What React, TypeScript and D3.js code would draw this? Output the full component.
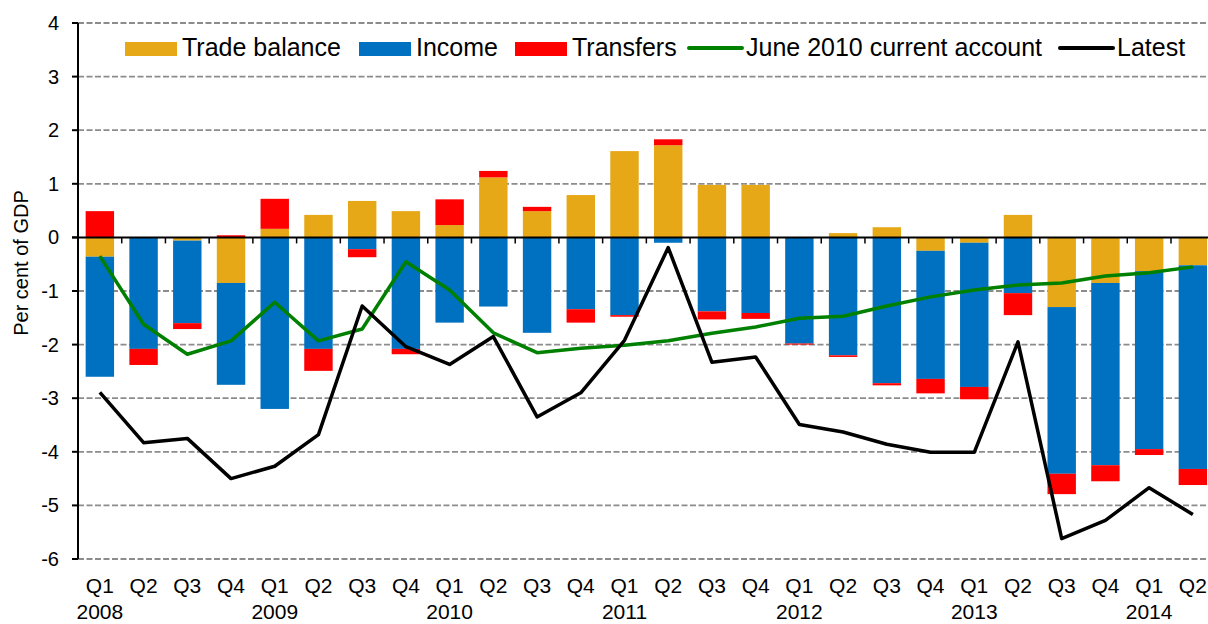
import React from "react";
import * as d3 from "d3";

const quarters = ["Q1","Q2","Q3","Q4","Q1","Q2","Q3","Q4","Q1","Q2","Q3","Q4","Q1","Q2","Q3","Q4","Q1","Q2","Q3","Q4","Q1","Q2","Q3","Q4","Q1","Q2"];
const years = ["2008","","","","2009","","","","2010","","","","2011","","","","2012","","","","2013","","","","2014",""];
const tradeBalance = [-0.36,0,-0.06,-0.85,0.16,0.42,0.68,0.49,0.23,1.12,0.49,0.79,1.61,1.72,0.98,0.98,0,0.08,0.19,-0.25,-0.10,0.42,-1.30,-0.85,-0.63,-0.52];
const income = [-2.24,-2.08,-1.54,-1.90,-3.20,-2.08,-0.22,-2.08,-1.59,-1.29,-1.78,-1.34,-1.45,-0.10,-1.38,-1.41,-1.98,-2.20,-2.72,-2.39,-2.69,-1.04,-3.11,-3.40,-3.32,-3.80];
const transfers = [0.49,-0.30,-0.11,0.04,0.56,-0.41,-0.15,-0.10,0.48,0.12,0.08,-0.25,-0.03,0.11,-0.15,-0.11,-0.02,-0.03,-0.04,-0.27,-0.23,-0.41,-0.38,-0.30,-0.11,-0.30];
const june2010 = [-0.35,-1.62,-2.18,-1.93,-1.21,-1.93,-1.71,-0.455,-0.98,-1.78,-2.15,-2.07,-2.01,-1.93,-1.79,-1.67,-1.51,-1.47,-1.28,-1.11,-0.98,-0.89,-0.85,-0.72,-0.66,-0.55];
const latest = [-2.89,-3.83,-3.75,-4.50,-4.27,-3.68,-1.28,-2.04,-2.37,-1.85,-3.35,-2.90,-1.92,-0.19,-2.33,-2.23,-3.49,-3.63,-3.86,-4.01,-4.01,-1.95,-5.62,-5.28,-4.67,-5.17];
const yTicks = [4,3,2,1,0,-1,-2,-3,-4,-5,-6];

const seriesKeys = ["trade","income","transfers"];
const seriesColors: Record<string,string> = { trade: "#E6A817", income: "#0070C0", transfers: "#FF0000" };
const legendItems = [
  { label: "Trade balance", kind: "rect", color: "#E6A817", x: 125 },
  { label: "Income", kind: "rect", color: "#0070C0", x: 359 },
  { label: "Transfers", kind: "rect", color: "#FF0000", x: 515 },
  { label: "June 2010 current account", kind: "line", color: "#008000", x: 689 },
  { label: "Latest", kind: "line", color: "#000000", x: 1060 },
];

const FONT = "'Liberation Sans', Arial, sans-serif";

export default function App() {
  const W = 1208, H = 624;
  const left = 78, top = 23, bottom = 559;
  const ids = quarters.map((_, i) => String(i));
  const x = d3.scaleBand<string>().domain(ids).range([left, left + 26 * 43.72]).paddingInner(0.35).paddingOuter(0.175);
  const y = d3.scaleLinear().domain([-6, 4]).range([bottom, top]);

  const table = ids.map((id, i) => ({ id, trade: tradeBalance[i], income: income[i], transfers: transfers[i] }));
  const stacked = d3.stack<any>().keys(seriesKeys).offset(d3.stackOffsetDiverging)(table);

  const line = d3.line<number>().x((_, i) => (x(ids[i]) as number) + x.bandwidth() / 2).y(d => y(d));
  const xEnd = W;

  return (
    <svg width={W} height={H} style={{ position: "absolute", left: 0, top: 0, background: "#fff" }} fontFamily={FONT}>
      {yTicks.filter(t => t !== 0).map(t => (
        <line key={"g" + t} x1={left} x2={xEnd} y1={y(t)} y2={y(t)} stroke="#8c8c8c" strokeWidth={1.8} strokeDasharray="6,2.5" />
      ))}
      {stacked.map(s => (
        <g key={s.key} fill={seriesColors[s.key]}>
          {s.map((d, i) => {
            const y0 = y(Math.max(d[0], d[1]));
            const y1 = y(Math.min(d[0], d[1]));
            return <rect key={i} x={x(ids[i])} width={x.bandwidth()} y={y0} height={Math.max(0, y1 - y0)} />;
          })}
        </g>
      ))}
      <line x1={left - 6} x2={xEnd} y1={y(0)} y2={y(0)} stroke="#000" strokeWidth={2} />
      {ids.slice(1).map((id) => (
        <line key={"xt" + id} x1={x(id)! - (x.step() - x.bandwidth()) / 2} x2={x(id)! - (x.step() - x.bandwidth()) / 2} y1={y(0)} y2={y(0) + 6} stroke="#000" strokeWidth={1.5} />
      ))}
      <line x1={left} x2={left} y1={top} y2={bottom} stroke="#000" strokeWidth={2} />
      {yTicks.map(t => (
        <g key={"yt" + t}>
          <line x1={left - 6} x2={left} y1={y(t)} y2={y(t)} stroke="#000" strokeWidth={2} />
          <text x={59} y={y(t)} dy="0.35em" textAnchor="end" fontSize={20} fill="#000">{t}</text>
        </g>
      ))}
      <text transform={`translate(28,263) rotate(-90)`} textAnchor="middle" fontSize={20} fill="#000">Per cent of GDP</text>
      <path d={line(june2010) || ""} fill="none" stroke="#008000" strokeWidth={3.5} strokeLinejoin="round" />
      <path d={line(latest) || ""} fill="none" stroke="#000" strokeWidth={3.5} strokeLinejoin="round" />
      {ids.map((id, i) => (
        <g key={"xl" + id}>
          <text x={x(id)! + x.bandwidth() / 2} y={593} textAnchor="middle" fontSize={21} fill="#000">{quarters[i]}</text>
          {years[i] && <text x={x(id)! + x.bandwidth() / 2} y={619} textAnchor="middle" fontSize={21} fill="#000">{years[i]}</text>}
        </g>
      ))}
      {legendItems.map(it => (
        <g key={it.label}>
          {it.kind === "rect"
            ? <rect x={it.x} y={42} width={52} height={14} fill={it.color} />
            : <line x1={it.x} x2={it.x + 53} y1={48} y2={48} stroke={it.color} strokeWidth={4} strokeLinecap="round" />}
          <text x={it.x + 57} y={56} fontSize={25} fill="#000">{it.label}</text>
        </g>
      ))}
    </svg>
  );
}
